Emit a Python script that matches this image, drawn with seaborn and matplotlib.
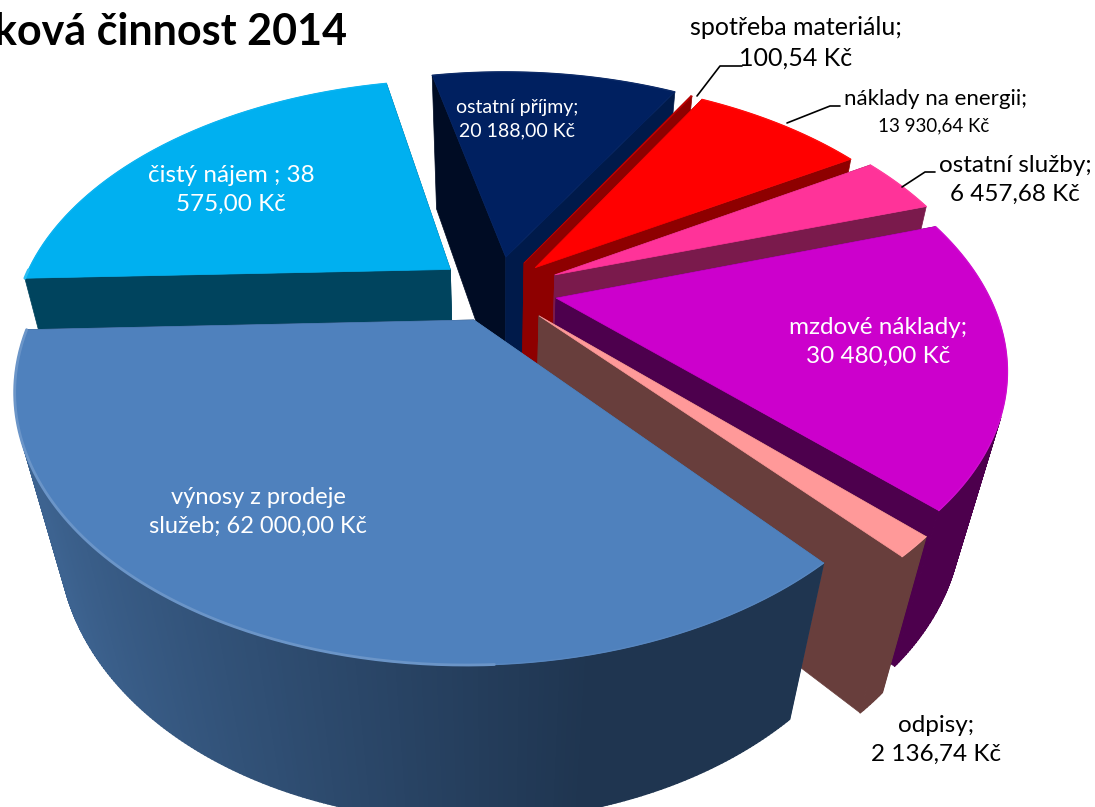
import numpy as np
import matplotlib.pyplot as plt
import seaborn as sns
from matplotlib.collections import PolyCollection

# chart data, in drawing order round the pie (clockwise)
names = ["výnosy z prodeje služeb", "čistý nájem", "ostatní příjmy", "spotřeba materiálu",
         "náklady na energii", "ostatní služby", "mzdové náklady", "odpisy"]
values = [62000.00, 38575.00, 20188.00, 100.54, 13930.64, 6457.68, 30480.00, 2136.74]
top_colors = ["#4F81BD", "#00B0F0", "#002060", "#C00000", "#FF0000", "#FF3399", "#CC00CC", "#FF9999"]
wall_colors = ["#1F3550", "#00445E", "#001A4A", "#8E0000", "#8E0000", "#7A1A4C", "#4D004D", "#683E3C"]
dark_colors = ["#3D6390", "#00445E", "#000C24", "#8E0000", "#8E0000", "#7A1A4C", "#4D004D", "#683E3C"]
explode = [0.13, 0.14, 0.14, 0.13, 0.13, 0.15, 0.14, 0.14]

START = -49.5
HEIGHT = 0.50
ELEV = np.radians(37)
CAM_D = 3.3
FOCAL = 1340
XSTRETCH = 1.06
CX, CY = 497, 290


def project(x, y, z):
    yc = y * np.sin(ELEV) + z * np.cos(ELEV)
    zc = CAM_D + y * np.cos(ELEV) - z * np.sin(ELEV)
    return CX + XSTRETCH * FOCAL * x / zc, CY - FOCAL * yc / zc


def quad(x0, y0, x1, y1):
    a = project(x0, y0, 0)
    b = project(x1, y1, 0)
    c = project(x1, y1, -HEIGHT)
    d = project(x0, y0, -HEIGHT)
    return [a, b, c, d]


def mix(c1, c2, t):
    c1, c2 = np.array(plt.matplotlib.colors.to_rgb(c1)), np.array(plt.matplotlib.colors.to_rgb(c2))
    return tuple(c1 + (c2 - c1) * t)


def draw_slice(ax, t_hi, t_lo, off, top, wall, dark):
    mid = np.radians((t_hi + t_lo) / 2)
    ox, oy = off * np.cos(mid), off * np.sin(mid)
    ts = np.radians(np.linspace(t_lo, t_hi, max(3, int((t_hi - t_lo) * 2))))
    xs, ys = ox + np.cos(ts), oy + np.sin(ts)

    # radial walls first, then the rim, the top goes over everything
    ax.add_patch(plt.Polygon(quad(ox, oy, xs[-1], ys[-1]), fc=dark, ec=dark, lw=0.5))
    ax.add_patch(plt.Polygon(quad(ox, oy, xs[0], ys[0]), fc=wall, ec=wall, lw=0.5))
    rim, cols = [], []
    for i in range(len(ts) - 1):
        # skip rim pieces that face away from the camera
        if np.cos(ts[i]) * xs[i] + np.sin(ts[i]) * (ys[i] + CAM_D * np.cos(ELEV)) > 0:
            continue
        rim.append(quad(xs[i], ys[i], xs[i + 1], ys[i + 1]))
        shade = np.clip(0.2 - 0.95 * np.cos(ts[i]), 0, 1)
        cols.append(mix(wall, dark, shade))
    ax.add_collection(PolyCollection(rim, facecolors=cols, edgecolors=cols, linewidths=1.0))

    px, py = project(xs, ys, 0)
    ax_, ay_ = project(ox, oy, 0)
    outline = [(ax_, ay_)] + list(zip(px, py))
    ax.add_patch(plt.Polygon(outline, fc=top, ec=top, lw=0.5))
    ax.plot(px, py, color=mix(top, "#FFFFFF", 0.05), lw=1.0, solid_capstyle="round")
    # bevel highlight on the front left of the rim
    lit = (np.cos(ts) < 0.05) & (np.sin(ts) < 0)
    if lit.any():
        ax.plot(px[lit], py[lit], color=mix(top, "#FFFFFF", 0.16), lw=2.0, solid_capstyle="round")


sns.set_theme(style="white")
plt.rcParams["font.family"] = ["Lato", "DejaVu Sans"]

fig = plt.figure(figsize=(10.95, 8.07), dpi=100)
ax = fig.add_axes([0, 0, 1, 1])
ax.set_xlim(0, 1095)
ax.set_ylim(807, 0)
ax.axis("off")

spans = np.array(values) / sum(values) * 360
edges = START - np.concatenate([[0], np.cumsum(spans)])

# painter's order: back slices first, big front slice last
order = [1, 2, 3, 4, 5, 6, 7, 0]
for i in order:
    draw_slice(ax, edges[i], edges[i + 1], explode[i], top_colors[i], wall_colors[i], dark_colors[i])

ax.text(347, 32, "ková činnost 2014", fontsize=31, fontweight="bold", color="black",
        ha="right", va="center")

white = dict(color="white", ha="center", va="center")
black = dict(color="black", ha="center", va="center")
ax.text(258, 512, "výnosy z prodeje\nslužeb; 62 000,00 Kč", fontsize=17, linespacing=1.45, **white)
ax.text(231, 190, "čistý nájem ; 38\n575,00 Kč", fontsize=17.5, linespacing=1.5, **white)
ax.text(517, 119, "ostatní příjmy;\n20 188,00 Kč", fontsize=14, linespacing=1.5, **white)
ax.text(878, 342, "mzdové náklady;\n30 480,00 Kč", fontsize=17.5, linespacing=1.5, **white)
ax.text(796, 43, "spotřeba materiálu;\n100,54 Kč", fontsize=18, linespacing=1.4, **black)
ax.text(936, 99, "náklady na energii;", fontsize=16, **black)
ax.text(934, 126, "13 930,64 Kč", fontsize=13.5, **black)
ax.text(1015, 180, "ostatní služby;\n6 457,68 Kč", fontsize=17.5, linespacing=1.45, **black)
ax.text(936, 740, "odpisy;\n2 136,74 Kč", fontsize=17.5, linespacing=1.5, **black)

# leader lines
ax.plot([697, 720, 742], [96, 66, 66], color="black", lw=1.2)
ax.plot([787, 830, 840], [123, 106, 106], color="black", lw=1.2)
ax.plot([902, 925, 935], [187, 172, 172], color="black", lw=1.2)

fig.savefig("out.png", dpi=100)
